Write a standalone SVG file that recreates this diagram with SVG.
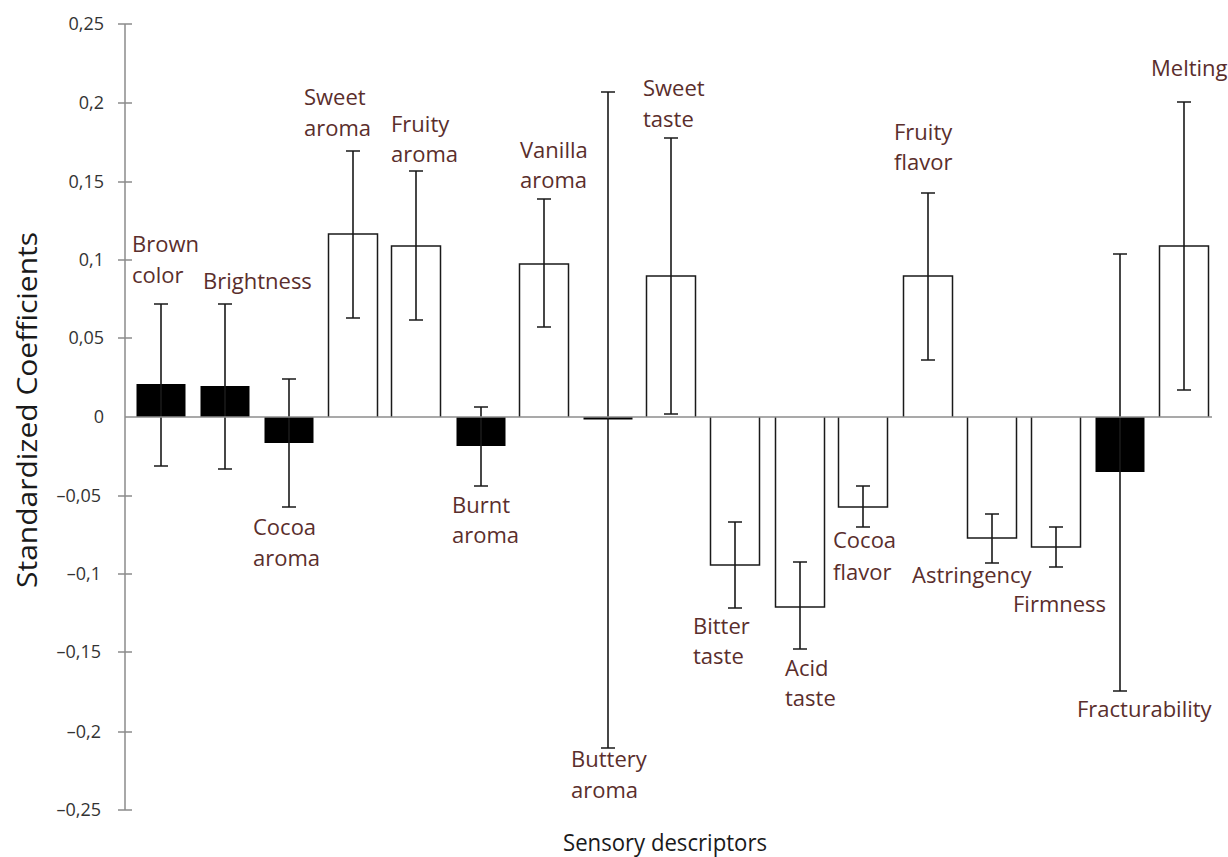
<svg xmlns="http://www.w3.org/2000/svg" width="1228" height="857" viewBox="0 0 1228 857">
<style>
.bk{fill:#000}
.wt{fill:#fff;stroke:#1a1a1a;stroke-width:1.5}
.err{fill:none;stroke:#1a1a1a;stroke-width:1.6}
.ax{fill:none;stroke:#8c8c8c;stroke-width:1.5}
.lbl{font-family:'Open Sans','Liberation Sans',sans-serif;font-size:22px;fill:#5a2e2c}
.tk{font-family:'Open Sans','Liberation Sans',sans-serif;font-size:18px;fill:#333;text-anchor:end}
.ttl{font-family:'Open Sans','Liberation Sans',sans-serif;fill:#1a1a1a}
</style>
<rect width="1228" height="857" fill="#fff"/>
<g id="axes">
<path class="ax" d="M125,24V810M118,24H132M118,103H132M118,182H132M118,260H132M118,338H132M118,496H132M118,574H132M118,652H132M118,732H132M118,810H132"/>
<text class="tk" x="104" y="30">0,25</text>
<text class="tk" x="104" y="109">0,2</text>
<text class="tk" x="104" y="188">0,15</text>
<text class="tk" x="104" y="266">0,1</text>
<text class="tk" x="104" y="344">0,05</text>
<text class="tk" x="104" y="423">0</text>
<text class="tk" x="101" y="502">–0,05</text>
<text class="tk" x="101" y="580">–0,1</text>
<text class="tk" x="101" y="658">–0,15</text>
<text class="tk" x="101" y="738">–0,2</text>
<text class="tk" x="101" y="816">–0,25</text>
<text class="ttl" font-size="28" text-anchor="middle" transform="translate(37,410) rotate(-90)" textLength="356" lengthAdjust="spacingAndGlyphs">Standardized Coefficients</text>
<text class="ttl" font-size="23" text-anchor="middle" x="665" y="851" textLength="204" lengthAdjust="spacingAndGlyphs">Sensory descriptors</text>
</g>
<g id="bars">
<g id="brown-color"><rect class="bk" x="136.5" y="384" width="49" height="33"/><path class="err" d="M154,304H168M161,304V466M154,466H168"/><text class="lbl" x="132" y="252">Brown</text><text class="lbl" x="132" y="283">color</text></g>
<g id="brightness"><rect class="bk" x="200.5" y="386" width="49" height="31"/><path class="err" d="M218,304H232M225,304V469M218,469H232"/><text class="lbl" x="203" y="289">Brightness</text></g>
<g id="cocoa-aroma"><rect class="bk" x="264.5" y="417" width="49" height="26"/><path class="err" d="M282,379H296M289,379V507M282,507H296"/><text class="lbl" x="253" y="535">Cocoa</text><text class="lbl" x="253" y="566">aroma</text></g>
<g id="sweet-aroma"><path class="wt" d="M328.5,417V234H377.5V417"/><path class="err" d="M346,151H360M353,151V318M346,318H360"/><text class="lbl" x="304" y="105">Sweet</text><text class="lbl" x="304" y="136">aroma</text></g>
<g id="fruity-aroma"><path class="wt" d="M391.5,417V246H440.5V417"/><path class="err" d="M409,171H423M416,171V320M409,320H423"/><text class="lbl" x="391" y="132">Fruity</text><text class="lbl" x="391" y="162">aroma</text></g>
<g id="burnt-aroma"><rect class="bk" x="456.5" y="417" width="49" height="29"/><path class="err" d="M474,407H488M481,407V486M474,486H488"/><text class="lbl" x="452" y="513">Burnt</text><text class="lbl" x="452" y="543">aroma</text></g>
<g id="vanilla-aroma"><path class="wt" d="M519.5,417V264H568.5V417"/><path class="err" d="M537,199H551M544,199V327M537,327H551"/><text class="lbl" x="520" y="158">Vanilla</text><text class="lbl" x="520" y="188">aroma</text></g>
<g id="buttery-aroma"><rect class="bk" x="583.5" y="417" width="49" height="2.5"/><path class="err" d="M601,92H615M608,92V748M601,748H615"/><text class="lbl" x="571" y="767">Buttery</text><text class="lbl" x="571" y="798">aroma</text></g>
<g id="sweet-taste"><path class="wt" d="M646.5,417V276H695.5V417"/><path class="err" d="M664,138H678M671,138V414M664,414H678"/><text class="lbl" x="643" y="96">Sweet</text><text class="lbl" x="643" y="127">taste</text></g>
<g id="bitter-taste"><path class="wt" d="M710.5,417V565H759.5V417"/><path class="err" d="M728,522H742M735,522V608M728,608H742"/><text class="lbl" x="693" y="634">Bitter</text><text class="lbl" x="693" y="664">taste</text></g>
<g id="acid-taste"><path class="wt" d="M775.5,417V607H824.5V417"/><path class="err" d="M793,562H807M800,562V649M793,649H807"/><text class="lbl" x="785" y="676">Acid</text><text class="lbl" x="785" y="706">taste</text></g>
<g id="cocoa-flavor"><path class="wt" d="M838.5,417V507H887.5V417"/><path class="err" d="M856,486H870M863,486V527M856,527H870"/><text class="lbl" x="833" y="548">Cocoa</text><text class="lbl" x="833" y="580">flavor</text></g>
<g id="fruity-flavor"><path class="wt" d="M903.5,417V276H952.5V417"/><path class="err" d="M921,193H935M928,193V360M921,360H935"/><text class="lbl" x="894" y="140">Fruity</text><text class="lbl" x="894" y="170">flavor</text></g>
<g id="astringency"><path class="wt" d="M967.5,417V538H1016.5V417"/><path class="err" d="M985,514H999M992,514V563M985,563H999"/><text class="lbl" x="912" y="583">Astringency</text></g>
<g id="firmness"><path class="wt" d="M1031.5,417V547H1080.5V417"/><path class="err" d="M1049,527H1063M1056,527V567M1049,567H1063"/><text class="lbl" x="1013" y="612">Firmness</text></g>
<g id="fracturability"><rect class="bk" x="1095.5" y="417" width="49" height="55"/><path class="err" d="M1113,254H1127M1120,254V691M1113,691H1127"/><text class="lbl" x="1077" y="717">Fracturability</text></g>
<g id="melting"><path class="wt" d="M1159.5,417V246H1208.5V417"/><path class="err" d="M1177,102H1191M1184,102V390M1177,390H1191"/><text class="lbl" x="1151" y="76">Melting</text></g>
</g>
<g id="connectors">
<path class="ax" d="M125,417H1212"/>
</g>
</svg>
